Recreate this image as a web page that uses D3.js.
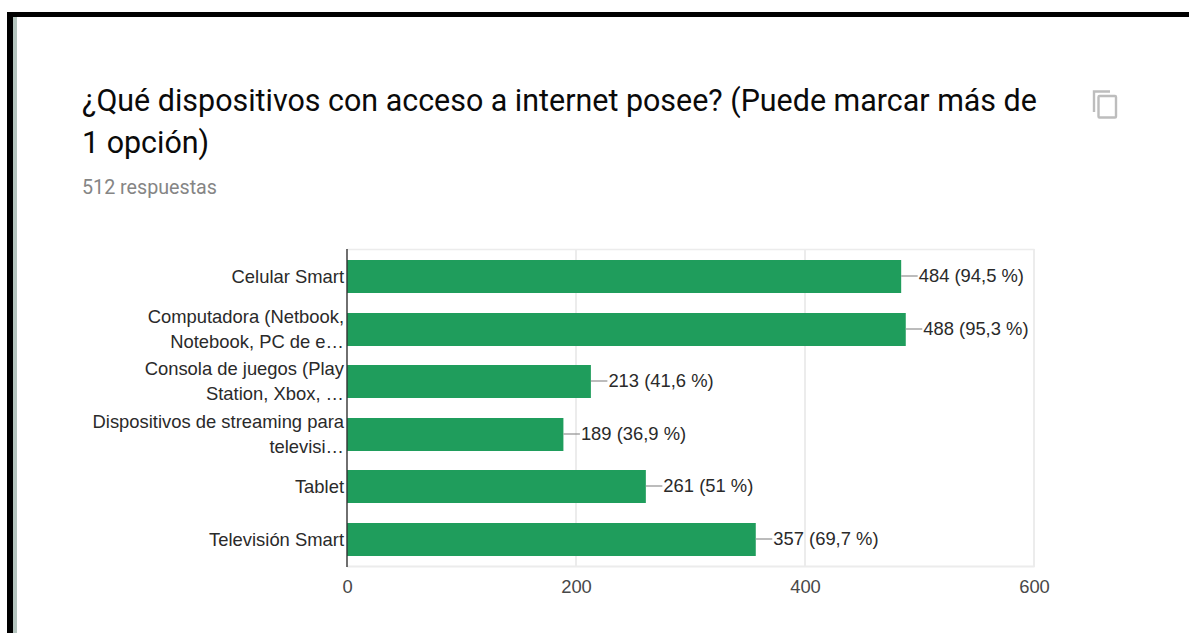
<!DOCTYPE html>
<html lang="es">
<head>
<meta charset="utf-8">
<script src="https://cdn.jsdelivr.net/npm/d3@7"></script>
<style>
html, body { margin: 0; padding: 0; background: #fff; overflow: hidden; }
svg { display: block; }
</style>
</head>
<body>
<svg id="chart" width="1189" height="633"></svg>
<script>
const categories = ["Celular Smart", "Computadora", "Consola", "Streaming", "Tablet", "Televisión Smart"];
const categoryLines = [
  ["Celular Smart"],
  ["Computadora (Netbook,", "Notebook, PC de e…"],
  ["Consola de juegos (Play", "Station, Xbox, …"],
  ["Dispositivos de streaming para", "televisi…"],
  ["Tablet"],
  ["Televisión Smart"]
];
const counts = [484, 488, 213, 189, 261, 357];
const percentLabels = ["94,5", "95,3", "41,6", "36,9", "51", "69,7"];
const xTicks = [0, 200, 400, 600];
const titleLines = ["¿Qué dispositivos con acceso a internet posee? (Puede marcar más de", "1 opción)"];
const subtitle = "512 respuestas";

const svg = d3.select("#chart");
const plotLeft = 347, plotRight = 1034.5, plotTop = 249, plotBottom = 567;
const labelSize = 18.4;

// Card frame: heavy black edge along the top and left, with a pale inner shadow
svg.append("rect").attr("x", 7).attr("y", 12).attr("width", 1182).attr("height", 5).attr("fill", "#000");
svg.append("rect").attr("x", 7).attr("y", 12).attr("width", 6).attr("height", 621).attr("fill", "#000");
svg.append("rect").attr("x", 13).attr("y", 17).attr("width", 4).attr("height", 616).attr("fill", "#b4c4be");

// Heading
svg.append("g").selectAll("text").data(titleLines).join("text")
  .attr("x", 82).attr("y", (d, i) => 111 + i * 42)
  .attr("font-family", "Roboto").attr("font-size", 30.43).attr("fill", "#0a0a0a")
  .text(d => d);
svg.append("text").attr("x", 82).attr("y", 194)
  .attr("font-family", "Roboto").attr("font-size", 19.7).attr("fill", "#858585")
  .text(subtitle);

// Copy icon
const icon = svg.append("g").attr("fill", "none").attr("stroke", "#bdbdbd").attr("stroke-width", 2.4);
icon.append("path").attr("d", "M1094 112V91.5H1110");
icon.append("rect").attr("x", 1098.5).attr("y", 96).attr("width", 17.5).attr("height", 21.5).attr("rx", 1);

const x = d3.scaleLinear().domain([0, 600]).range([plotLeft, plotRight - 0.5]);
const y = d3.scaleBand().domain(categories).range([250.2, 565.8]);
const barH = 33;

// Grid and plot outline
const grid = svg.append("g").attr("stroke", "#ececec").attr("stroke-width", 2);
grid.selectAll("line.v").data(xTicks.slice(1)).join("line").attr("class", "v")
  .attr("x1", d => x(d)).attr("x2", d => x(d)).attr("y1", plotTop).attr("y2", plotBottom);
grid.append("line").attr("x1", plotLeft).attr("x2", plotRight).attr("y1", plotTop + 0.5).attr("y2", plotTop + 0.5).attr("stroke-width", 1.5);
grid.append("line").attr("x1", plotLeft).attr("x2", plotRight).attr("y1", plotBottom - 0.5).attr("y2", plotBottom - 0.5);

// Bars
svg.append("g").selectAll("rect").data(counts).join("rect")
  .attr("x", plotLeft)
  .attr("y", (d, i) => Math.round(y(categories[i]) + y.bandwidth() / 2 - barH / 2))
  .attr("width", d => x(d) - plotLeft)
  .attr("height", barH)
  .attr("fill", "#1f9d5c");

// Baseline
svg.append("line").attr("x1", plotLeft).attr("x2", plotLeft).attr("y1", plotTop).attr("y2", plotBottom)
  .attr("stroke", "#333").attr("stroke-width", 1.4);

// Value leader lines and labels
const cy = i => Math.round(y(categories[i]) + y.bandwidth() / 2 - barH / 2) + barH / 2;
svg.append("g").selectAll("line").data(counts).join("line")
  .attr("x1", d => x(d)).attr("x2", d => x(d) + 16.5)
  .attr("y1", (d, i) => cy(i) - 0.5).attr("y2", (d, i) => cy(i) - 0.5)
  .attr("stroke", "#8f8f8f").attr("stroke-width", 1.2);
svg.append("g").selectAll("text").data(counts).join("text")
  .attr("x", d => x(d) + 17.5)
  .attr("y", (d, i) => cy(i) + 5.5)
  .attr("font-family", "Liberation Sans").attr("font-size", labelSize).attr("fill", "#2a2a2a")
  .text((d, i) => `${d} (${percentLabels[i]} %)`);

// Category labels, right aligned against the baseline
categoryLines.forEach((lines, i) => {
  const g = svg.append("g");
  const start = cy(i) + 6 - (lines.length - 1) * 12.75;
  g.selectAll("text").data(lines).join("text")
    .attr("x", 344).attr("y", (d, j) => start + j * 25.5)
    .attr("text-anchor", "end")
    .attr("font-family", "Liberation Sans").attr("font-size", labelSize).attr("fill", "#2a2a2a")
    .text(d => d);
});

// Value axis labels
svg.append("g").selectAll("text").data(xTicks).join("text")
  .attr("x", d => x(d) + 0.5).attr("y", 593)
  .attr("text-anchor", "middle")
  .attr("font-family", "Liberation Sans").attr("font-size", labelSize).attr("fill", "#484848")
  .text(d => d);
</script>
</body>
</html>
